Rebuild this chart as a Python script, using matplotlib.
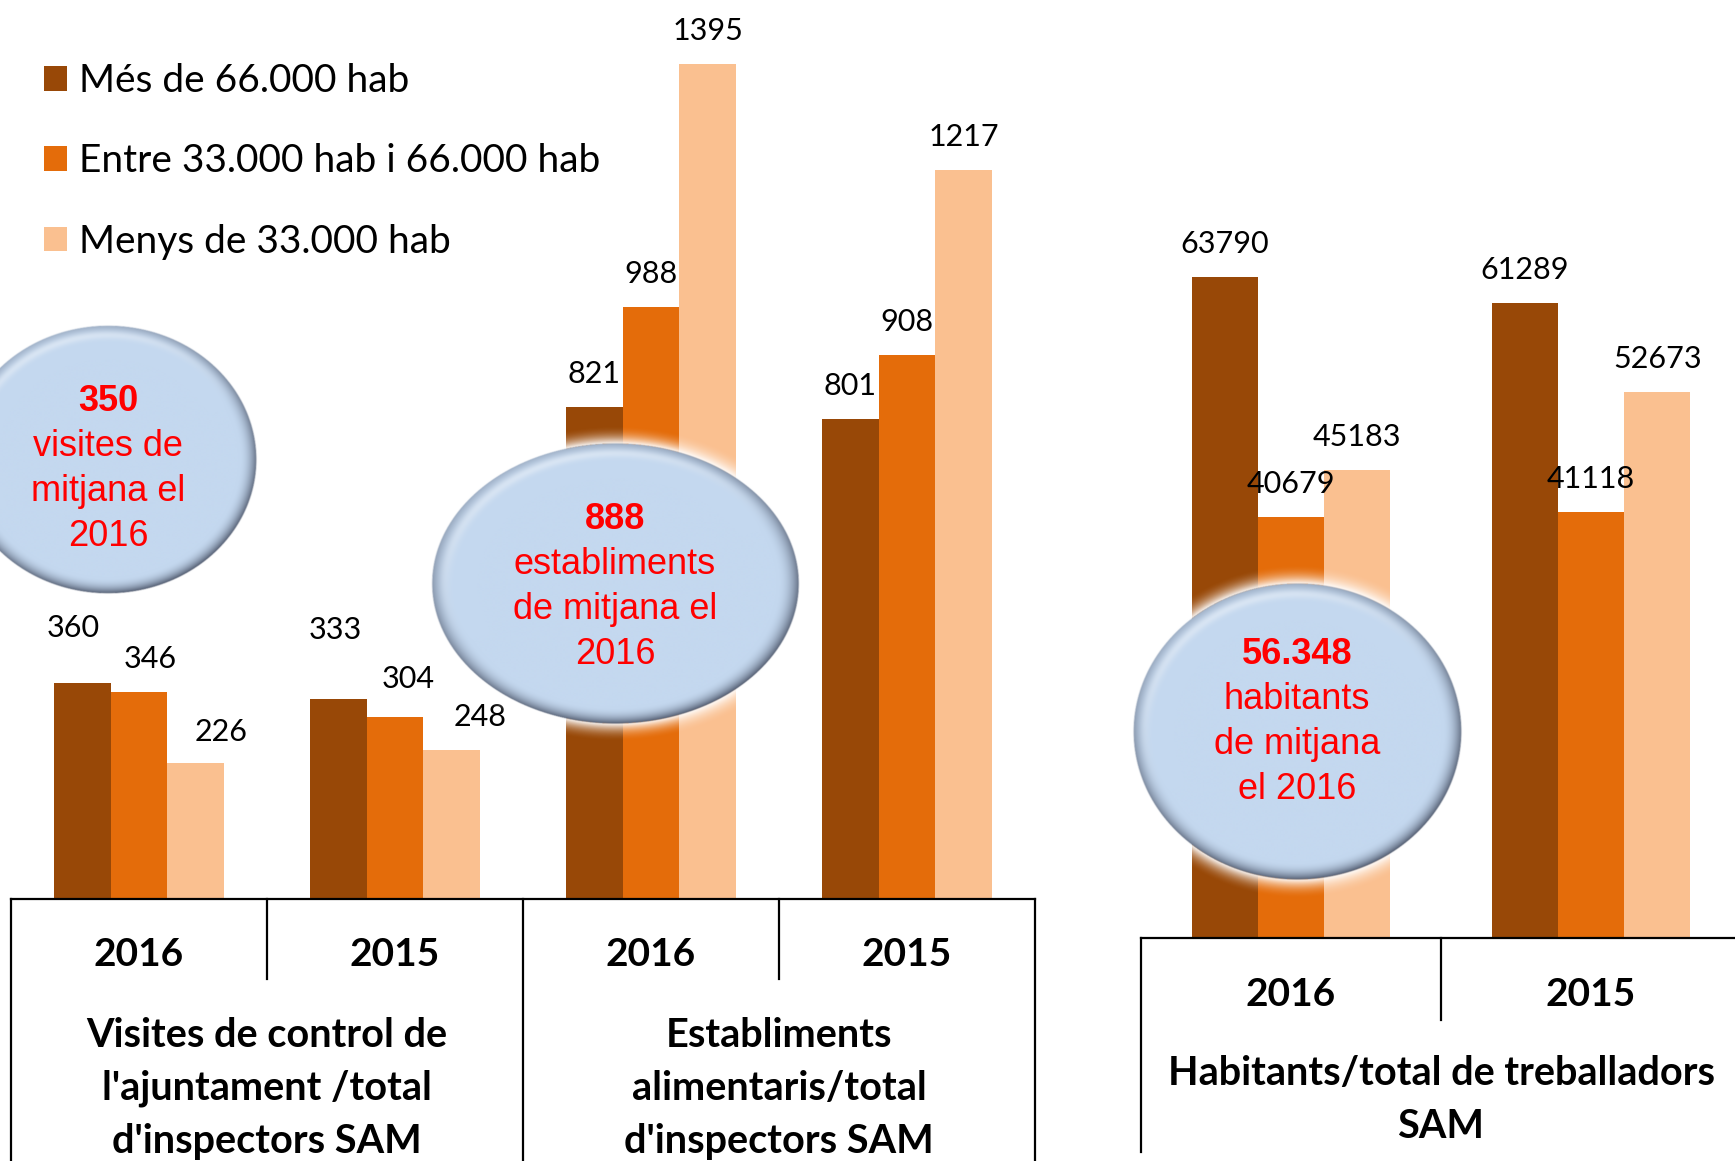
import numpy as np
import matplotlib
matplotlib.use("Agg")
import matplotlib.pyplot as plt
from matplotlib.patches import Patch

plt.rcParams['font.family'] = ['Lato', 'DejaVu Sans']

# ---------------- data ----------------
series_names = ['Més de 66.000 hab', 'Entre 33.000 hab i 66.000 hab', 'Menys de 33.000 hab']
years_left = ['2016', '2015', '2016', '2015']
mes66_left = [360, 333, 821, 801]
entre_left = [346, 304, 988, 908]
menys_left = [226, 248, 1395, 1217]
groups_left = ["Visites de control de\nl'ajuntament /total\nd'inspectors SAM",
               "Establiments\nalimentaris/total\nd'inspectors SAM"]

years_right = ['2016', '2015']
mes66_right = [63790, 61289]
entre_right = [40679, 41118]
menys_right = [45183, 52673]
groups_right = ["Habitants/total de treballadors\nSAM"]

bubble_values = ['350', '888', '56.348']
bubble_texts = ['visites de\nmitjana el\n2016', 'establiments\nde mitjana el\n2016',
                'habitants\nde mitjana\nel 2016']

colors = ['#984807', '#E46C0A', '#FAC090']

W, H = 1735, 1161
fig = plt.figure(figsize=(W / 100, H / 100), dpi=100)

# label offset tweaks (pixels) for labels moved in the original: (series, index) -> (dx, dy)
label_shift_left = {(0, 0): (-9, 55), (1, 0): (11, 33), (2, 0): (25, 31),
                    (0, 1): (-3, 69), (1, 1): (13, 38), (2, 1): (28, 33)}


def panel(rect, years, series, ymax, bw, shifts, base_px, full_px, short_px):
    ax = fig.add_axes(rect)
    n = len(years)
    x = np.arange(n)
    for i, (vals, c) in enumerate(zip(series, colors)):
        xs = x + (i - 1) * bw
        ax.bar(xs, vals, width=bw, color=c, edgecolor='none', zorder=2)
        for j, (xx, v) in enumerate(zip(xs, vals)):
            dx, dy = shifts.get((i, j), (0, 33))
            ax.annotate(f'{v}', xy=(xx, v), xytext=(dx, dy), textcoords='offset pixels',
                        ha='center', va='center', fontsize=22, color='black', zorder=3)
    ax.set_xlim(-0.5, n - 0.5)
    ax.set_ylim(0, ymax)
    for s in ['top', 'left', 'right']:
        ax.spines[s].set_visible(False)
    ax.spines['bottom'].set_linewidth(1.6)
    ax.set_xticks([])
    ax.set_yticks([])
    trans = ax.get_xaxis_transform()
    # table lines
    for k in range(n + 1):
        xv = k - 0.5
        depth = full_px if k % 2 == 0 else short_px
        ax.plot([xv, xv], [0, -depth / base_px], transform=trans, color='black',
                lw=1.6, clip_on=False, zorder=3)
    for j, yr in enumerate(years):
        ax.text(j, -56.5 / base_px, yr, transform=trans, ha='center', va='center',
                fontsize=28, fontweight='bold', clip_on=False)
    return ax, trans


axL, trL = panel([11 / W, (H - 898.5) / H, 1024 / W, 898.5 / H], years_left,
                 [mes66_left, entre_left, menys_left], 1502, 0.222, label_shift_left,
                 898.5, 270, 80.5)
for g, t in enumerate(groups_left):
    axL.text(2 * g + 0.5, -190 / 898.5, t, transform=trL, ha='center', va='center',
             fontsize=28.5, fontweight='bold', linespacing=1.52, clip_on=False)

axR, trR = panel([1141 / W, (H - 938) / H, 600 / W, 938 / H], years_right,
                 [mes66_right, entre_right, menys_right], 90540, 0.221, {},
                 938, 214, 82)
axR.text(0.5, -162 / 938, groups_right[0], transform=trR, ha='center', va='center',
         fontsize=28.5, fontweight='bold', linespacing=1.52, clip_on=False)

# legend
handles = [Patch(facecolor=c, edgecolor='none') for c in colors]
fig.legend(handles, series_names, loc='upper left', bbox_to_anchor=(44 / W, 1 - 63 / H),
           frameon=False, fontsize=28, handlelength=0.6, handleheight=0.6,
           handletextpad=0.3, labelspacing=1.14, borderpad=0, borderaxespad=0)

# overlay for bubbles
ov = fig.add_axes([0, 0, 1, 1], zorder=10)
ov.set_xlim(0, W)
ov.set_ylim(H, 0)
ov.axis('off')
ov.patch.set_alpha(0)


def bubble(cx, cy, w, h, glow=0.13):
    a, b = w / 2, h / 2
    pad = 1 + glow
    x0, x1 = cx - a * pad, cx + a * pad
    y0, y1 = cy - b * pad, cy + b * pad
    nx, ny = int(x1 - x0) * 2, int(y1 - y0) * 2
    X, Y = np.meshgrid(np.linspace(x0, x1, nx), np.linspace(y0, y1, ny))
    U = (X - cx) / a
    V = (Y - cy) / b
    R = np.sqrt(U ** 2 + V ** 2) + 1e-9
    ux, vy = U / R, V / R
    s = (0.45 * ux + 0.9 * vy) / np.hypot(0.45, 0.9)
    base = np.array([196, 216, 239]) / 255
    dark = np.array([80, 90, 110]) / 255
    lite = np.array([236, 243, 251]) / 255
    t = np.clip((R - 0.88) / 0.12, 0, 1)
    fd = (t ** 2.2) * (0.3 + 0.7 * np.clip(s * 0.5 + 0.5, 0, 1))
    fl = np.exp(-((R - 0.93) / 0.03) ** 2) * np.clip(-s, 0, 1) * 0.55
    col = base[None, None, :] * (1 - fd[..., None]) + dark[None, None, :] * fd[..., None]
    col = col * (1 - fl[..., None]) + lite[None, None, :] * fl[..., None]
    img = np.zeros((ny, nx, 4))
    inside = np.clip((1 - R) * a * 1.0 + 0.5, 0, 1)
    gl = np.clip(1 - (R - 1) / glow, 0, 1) ** 2 * 0.95
    gl[R < 1] = 0
    img[..., :3] = col * inside[..., None] + 1.0 * (1 - inside[..., None])
    img[..., 3] = np.maximum(inside, gl)
    ov.imshow(img, extent=(x0, x1, y1, y0), origin='upper', aspect='auto',
              interpolation='bilinear', zorder=1)


bubble_geom = [(108, 460, 297, 268), (615, 584, 367, 280), (1297, 732, 328, 296)]
text_centers = [(108, 469), (615, 587), (1297, 722)]
for (cx, cy, w, h), (tx, ty), val, txt in zip(bubble_geom, text_centers, bubble_values, bubble_texts):
    bubble(cx, cy, w, h)
    lines = [val] + txt.split('\n')
    step = 45
    y0 = ty - step * (len(lines) - 1) / 2
    for k, ln in enumerate(lines):
        ov.text(tx, y0 + k * step, ln, ha='center', va='center', color='#FF0000',
                fontsize=26, family=['Liberation Sans', 'DejaVu Sans'],
                fontweight='bold' if k == 0 else 'normal', zorder=2)

ov.set_xlim(0, W)
ov.set_ylim(H, 0)

fig.savefig('out.png', dpi=100)
